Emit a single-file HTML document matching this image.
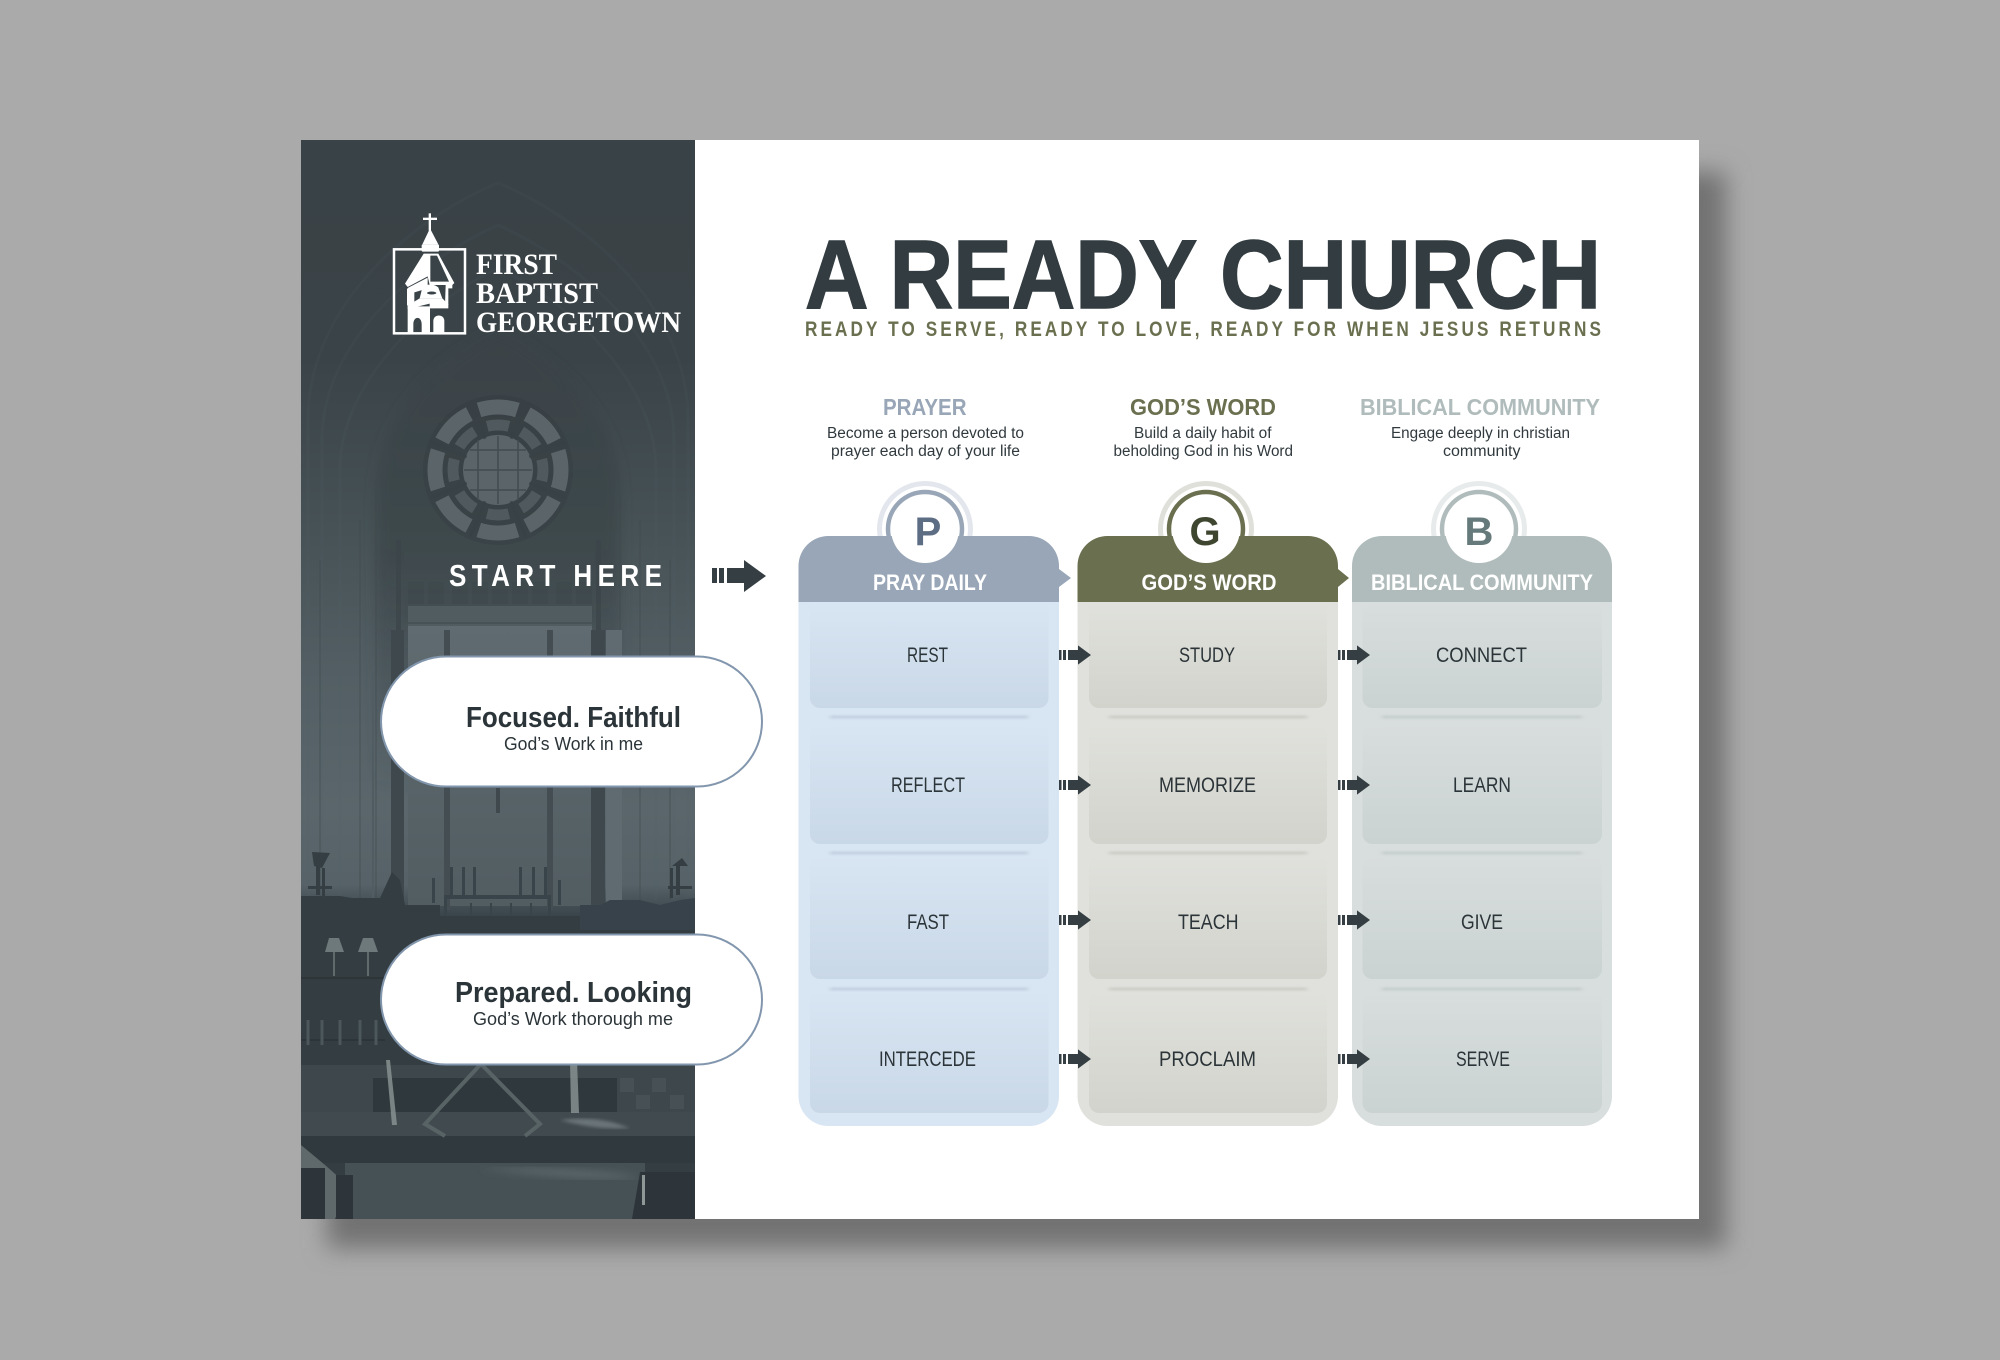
<!DOCTYPE html>
<html>
<head>
<meta charset="utf-8">
<title>A Ready Church</title>
<style>
html,body{margin:0;padding:0;width:2000px;height:1360px;overflow:hidden;background:#aaaaaa}
svg{display:block}
text{font-family:"Liberation Sans",sans-serif}
.t{font-weight:700}
.d{font-size:15.5px;fill:#30393d;text-anchor:start}
.i{font-size:21px;fill:#2b3438}
.h{font-size:22px;font-weight:700;fill:#fff}
.s{font-family:"Liberation Serif",serif;font-weight:700;font-size:30px;fill:#fff}
</style>
</head>
<body>
<svg width="2000" height="1360" viewBox="0 0 2000 1360" xmlns="http://www.w3.org/2000/svg">
<defs>
<filter id="sh" x="-10%" y="-10%" width="120%" height="120%"><feGaussianBlur stdDeviation="12"/></filter>
<filter id="b2"><feGaussianBlur stdDeviation="1.5"/></filter>
<filter id="b1" x="-5%" y="-600%" width="110%" height="1300%"><feGaussianBlur stdDeviation="2.4 1.4"/></filter>
<filter id="b3"><feGaussianBlur stdDeviation="4"/></filter>
<filter id="b6" x="-20%" y="-20%" width="140%" height="140%"><feGaussianBlur stdDeviation="6"/></filter>
<clipPath id="pc"><rect x="301" y="140" width="394" height="1079"/></clipPath>
<linearGradient id="pg" x1="0" y1="0" x2="0" y2="1">
<stop offset="0" stop-color="#394246"/><stop offset=".2" stop-color="#3a4347"/>
<stop offset=".33" stop-color="#444f53"/><stop offset=".5" stop-color="#535f64"/>
<stop offset=".62" stop-color="#5a666b"/><stop offset=".69" stop-color="#566267"/>
<stop offset=".72" stop-color="#39434a"/><stop offset=".8" stop-color="#343d41"/>
<stop offset="1" stop-color="#343d41"/>
</linearGradient>
<linearGradient id="ia" x1="0" y1="0" x2="0" y2="1">
<stop offset="0" stop-color="#3a4347" stop-opacity="1"/><stop offset=".5" stop-color="#3d474b" stop-opacity=".85"/>
<stop offset="1" stop-color="#47535a" stop-opacity="0"/>
</linearGradient>
<linearGradient id="wl" x1="0" y1="0" x2="0" y2="1">
<stop offset="0" stop-color="#5f6b70"/><stop offset="1" stop-color="#525d62"/>
</linearGradient>
<linearGradient id="c1" x1="0" y1="0" x2="0" y2="1"><stop offset="0" stop-color="#d8e5f3"/><stop offset="1" stop-color="#c9d8e7"/></linearGradient>
<linearGradient id="c2" x1="0" y1="0" x2="0" y2="1"><stop offset="0" stop-color="#e0e1dc"/><stop offset="1" stop-color="#d2d3cc"/></linearGradient>
<linearGradient id="c3" x1="0" y1="0" x2="0" y2="1"><stop offset="0" stop-color="#d8dddd"/><stop offset="1" stop-color="#cad3d2"/></linearGradient>
<g id="ar"><rect x="0" y="-5" width="2.5" height="10"/><rect x="4" y="-5" width="3" height="10"/><path d="M9 -5H19V-9.6L32 0L19 9.6V5H9Z"/></g>
</defs>

<rect width="2000" height="1360" fill="#aaaaaa"/>
<rect x="327" y="172" width="1399" height="1076" fill="#727272" filter="url(#sh)"/>
<rect x="301" y="140" width="1398" height="1079" fill="#ffffff"/>

<g clip-path="url(#pc)">
<rect x="301" y="140" width="394" height="1079" fill="url(#pg)"/>
<!-- arches -->
<g fill="none" stroke="#55616a" stroke-opacity=".12" stroke-width="3">
<path d="M308 900V420C308 300 420 215 498 183C576 215 688 300 688 420V900"/>
<path d="M322 900V440C322 340 420 260 498 225C576 260 674 340 674 440V900"/>
<path d="M340 900V470C340 380 430 300 498 268C566 300 656 380 656 470V900"/>
</g>
<path d="M376 790V500C376 420 430 365 498 330C566 365 620 420 620 500V790Z" fill="url(#ia)" filter="url(#b6)"/>
<g stroke="#3f494d" stroke-opacity=".3" stroke-width="2" fill="none">
<path d="M376 900V500C376 420 430 365 498 330C566 365 620 420 620 500V900"/>
<path d="M320 900V560M360 900V520M640 900V520M670 900V560"/>
</g>
<!-- rose window -->
<g>
<circle cx="498" cy="470" r="75" fill="#343d41" opacity=".4"/>
<circle cx="498" cy="470" r="63" fill="none" stroke="#5b6569" stroke-width="15" stroke-dasharray="39 10.5" stroke-dashoffset="19.5"/>
<circle cx="498" cy="470" r="45" fill="none" stroke="#50595d" stroke-width="11" stroke-dasharray="22 13.3" stroke-dashoffset="11"/>
<circle cx="498" cy="470" r="35" fill="#5b6569"/>
<g stroke="#434d50" stroke-width="1.5"><path d="M464 470H532M498 436V504M470 450H526M470 490H526M478 440V500M518 440V500"/></g>
<g transform="rotate(22.5 498 470)" stroke="#384145" stroke-width="3" opacity=".9"><path d="M498 398V436M498 504V542M426 470H464M532 470H570M447 419L474 446M549 419L522 446M447 521L474 494M549 521L522 494"/></g>
</g>
<!-- reredos -->
<rect x="396" y="540" width="5" height="110" fill="#3c464a" opacity=".8"/>
<rect x="596" y="540" width="5" height="110" fill="#3c464a" opacity=".8"/>
<rect x="404" y="552" width="190" height="70" fill="#424c50" opacity=".35"/>
<g fill="#3e484c" opacity=".55"><rect x="408" y="582" width="16" height="22"/><rect x="428" y="582" width="16" height="22"/><rect x="452" y="582" width="16" height="22"/><rect x="472" y="582" width="16" height="22"/><rect x="492" y="582" width="16" height="22"/><rect x="512" y="582" width="16" height="22"/><rect x="532" y="582" width="16" height="22"/><rect x="556" y="582" width="16" height="22"/><rect x="576" y="582" width="16" height="22"/></g>
<rect x="408" y="606" width="184" height="20" fill="#515c61"/>
<rect x="408" y="622" width="184" height="2" fill="#414b4f" opacity=".6"/>
<rect x="408" y="626" width="184" height="280" fill="url(#wl)"/>
<rect x="391" y="630" width="13" height="280" fill="#3f494d"/>
<rect x="591" y="630" width="14" height="280" fill="#3f494d"/>
<rect x="444" y="630" width="6" height="280" fill="#444e52"/>
<rect x="547" y="630" width="6" height="280" fill="#444e52"/>
<rect x="496" y="788" width="4" height="25" fill="#3f494d"/>
<path d="M373 660V900" stroke="#505c61" stroke-width="2"/>
<rect x="606" y="630" width="16" height="280" fill="#5f6b70"/>
<!-- altar -->
<g fill="#39434a">
<rect x="450" y="867" width="3" height="28"/><rect x="462" y="867" width="3" height="28"/><rect x="473" y="867" width="3" height="28"/>
<rect x="519" y="867" width="3" height="28"/><rect x="532" y="867" width="3" height="28"/><rect x="544" y="867" width="3" height="28"/>
<rect x="432" y="878" width="3" height="25"/><rect x="558" y="880" width="3" height="25"/>
<rect x="444" y="895" width="107" height="4"/><rect x="444" y="899" width="3" height="20"/><rect x="548" y="899" width="3" height="20"/>
<rect x="470" y="903" width="2" height="16"/><rect x="490" y="903" width="2" height="16"/><rect x="510" y="903" width="2" height="16"/><rect x="530" y="903" width="2" height="16"/>
</g>
<rect x="433" y="916" width="150" height="20" fill="#343d41"/>
<path d="M301 896H340L352 898H380L392 872L400 880L405 905H440V940H301Z" fill="#343d41"/>
<path d="M580 905H600L610 900H640L660 905L680 900L695 898V940H580Z" fill="#38424a"/>
<g fill="#353e42"><rect x="316" y="865" width="4" height="30"/><rect x="322" y="868" width="3" height="30"/><rect x="308" y="886" width="24" height="3"/><path d="M312 852L330 853L322 868L314 866Z"/>
<rect x="676" y="865" width="4" height="30"/><rect x="670" y="868" width="3" height="30"/><rect x="668" y="886" width="24" height="3"/><path d="M672 866L688 866L682 858Z"/></g>
<rect x="301" y="930" width="394" height="140" fill="#343d41"/>
<!-- lamps -->
<g fill="#6e797c"><path d="M329 938H339L344 952H325Z"/><path d="M363 938H373L378 952H358Z"/></g>
<g stroke="#6e797c" stroke-width="1.5"><path d="M334 952V976M368 952V976"/></g>
<g stroke="#2d3539" stroke-width="2"><path d="M301 978H385M301 1040H385"/></g>
<g stroke="#4c575b" stroke-width="3"><path d="M308 1020V1045M322 1020V1045M340 1020V1045M360 1020V1045M376 1020V1045"/></g>
<!-- floor -->
<rect x="301" y="1065" width="394" height="50" fill="#3e484c"/>
<rect x="373" y="1078" width="244" height="34" fill="#2f383c"/>
<g fill="#4b565a" opacity=".7"><rect x="620" y="1078" width="14" height="14"/><rect x="652" y="1078" width="14" height="14"/><rect x="636" y="1095" width="14" height="14"/><rect x="670" y="1095" width="14" height="14"/></g>
<rect x="301" y="1112" width="394" height="24" fill="#414b4f"/>
<rect x="301" y="1136" width="394" height="27" fill="#30393d"/>
<rect x="345" y="1163" width="300" height="56" fill="#465155"/>
<path d="M390 1060L397 1125H392L386 1060ZM570 1060H577L579 1113H571Z" fill="#87918f" opacity=".85"/>
<path d="M480 1065L425 1124L445 1136M482 1065L540 1124L525 1136" fill="none" stroke="#586366" stroke-width="4"/>
<path d="M301 1145L325 1165L342 1180L345 1195L335 1219H301Z" fill="#5f696c"/>
<path d="M301 1168H325V1219H301ZM336 1175H353V1219H336ZM640 1172H695V1219H632Z" fill="#2d353a"/>
<rect x="642" y="1175" width="3" height="30" fill="#8f9896"/>
<path d="M560 1120C600 1115 620 1125 630 1128C600 1130 580 1125 560 1120Z" fill="#6a7578" filter="url(#b2)"/>
<path d="M480 1168C560 1168 620 1172 640 1178C600 1180 540 1176 480 1168Z" fill="#5d696d" filter="url(#b3)"/>
</g>

<!-- logo -->
<g transform="translate(385 205) scale(.33333)" fill="#fff">
<rect x="27" y="133" width="213" height="252" fill="none" stroke="#fff" stroke-width="7.5"/>
<rect x="131" y="25" width="7" height="52"/><rect x="114" y="38" width="42" height="7"/>
<path d="M135 70L160 118H112Z"/>
<rect x="110" y="118" width="52" height="22" rx="4"/>
<path d="M56 240L116 142H160L214 240L200 250H74Z" fill="#3a4347"/>
<path d="M116 146H160L208 234L202 240H134L128 214L68 246L60 236Z"/>
<path d="M136 152H156L192 230L136 230Z" fill="#3a4347"/>
<path d="M70 248L128 218V250L88 262V296L66 302V252Z"/>
<path d="M182 240H202V250H190V300H180Z"/>
<path d="M112 248C120 236 150 236 160 248L172 280H104Z"/>
<ellipse cx="140" cy="264" rx="14" ry="4.5" fill="#3a4347"/>
<path d="M104 280H172L190 298V310H134V296L68 312V302Z"/>
<path d="M68 304H135V385H110V358C110 332 85 332 85 358V385H68Z"/>
<path d="M145 348C145 326 178 326 178 348V385H145Z"/>
</g>
<text class="s" x="476" y="274" textLength="81" lengthAdjust="spacingAndGlyphs">FIRST</text>
<text class="s" x="476" y="303" textLength="122" lengthAdjust="spacingAndGlyphs">BAPTIST</text>
<text class="s" x="476" y="332" textLength="205" lengthAdjust="spacingAndGlyphs">GEORGETOWN</text>

<text transform="translate(449 586) scale(.84 1)" x="0" y="0" font-size="31" font-weight="700" fill="#fff" textLength="253.5" lengthAdjust="spacing">START HERE</text>
<g fill="#353e42"><rect x="712" y="568" width="5" height="15"/><rect x="719" y="568" width="5" height="15"/><path d="M727 568H744V560L766 576L744 592V583H727Z"/></g>

<!-- pills -->
<rect x="381" y="656.5" width="381" height="130" rx="65" fill="#fff" stroke="#8296ad" stroke-width="2"/>
<rect x="381" y="934.5" width="381" height="130" rx="65" fill="#fff" stroke="#8296ad" stroke-width="2"/>
<text class="t" x="466" y="727" font-size="29" fill="#2b3438" textLength="215" lengthAdjust="spacingAndGlyphs">Focused. Faithful</text>
<text x="504" y="750" font-size="18" fill="#2b3438" textLength="139" lengthAdjust="spacingAndGlyphs">God’s Work in me</text>
<text class="t" x="455" y="1002" font-size="29" fill="#2b3438" textLength="237" lengthAdjust="spacingAndGlyphs">Prepared. Looking</text>
<text x="473" y="1025" font-size="18" fill="#2b3438" textLength="200" lengthAdjust="spacingAndGlyphs">God’s Work thorough me</text>

<!-- title -->
<text class="t" x="805" y="308" font-size="97" fill="#333c40" stroke="#333c40" stroke-width="1.5" textLength="796" lengthAdjust="spacingAndGlyphs">A READY CHURCH</text>
<text class="t" transform="translate(805 336) scale(.8 1)" x="0" y="0" font-size="21.5" fill="#6a704f" textLength="995" lengthAdjust="spacing">READY TO SERVE, READY TO LOVE, READY FOR WHEN JESUS RETURNS</text>

<text class="t" x="883" y="415" font-size="23" fill="#98a6b7" textLength="83.5" lengthAdjust="spacingAndGlyphs">PRAYER</text>
<text class="t" x="1130" y="415" font-size="23" fill="#6a704f" textLength="146" lengthAdjust="spacingAndGlyphs">GOD’S WORD</text>
<text class="t" x="1360" y="415" font-size="23" fill="#b0bcbb" textLength="240" lengthAdjust="spacingAndGlyphs">BIBLICAL COMMUNITY</text>

<text class="d" x="827" y="438" textLength="197" lengthAdjust="spacingAndGlyphs">Become a person devoted to</text>
<text class="d" x="831" y="456" textLength="189" lengthAdjust="spacingAndGlyphs">prayer each day of your life</text>
<text class="d" x="1134" y="438" textLength="137.5" lengthAdjust="spacingAndGlyphs">Build a daily habit of</text>
<text class="d" x="1113.5" y="456" textLength="179.5" lengthAdjust="spacingAndGlyphs">beholding God in his Word</text>
<text class="d" x="1391" y="438" textLength="179" lengthAdjust="spacingAndGlyphs">Engage deeply in christian</text>
<text class="d" x="1443" y="456" textLength="77.5" lengthAdjust="spacingAndGlyphs">community</text>

<!-- rings -->
<circle cx="925" cy="529" r="45.5" fill="#fff" stroke="#e3e7ed" stroke-width="5"/>
<circle cx="925" cy="529" r="37" fill="#fff" stroke="#98a6b7" stroke-width="4.5"/>
<circle cx="1206" cy="529" r="45.5" fill="#fff" stroke="#dfe0da" stroke-width="5"/>
<circle cx="1206" cy="529" r="37" fill="#fff" stroke="#6a704f" stroke-width="4.5"/>
<circle cx="1479" cy="529" r="45.5" fill="#fff" stroke="#e8ebeb" stroke-width="5"/>
<circle cx="1479" cy="529" r="37" fill="#fff" stroke="#b0bcbb" stroke-width="4.5"/>

<!-- column 1 -->
<path d="M798.5 602H1059V1096a30 30 0 0 1-30 30H828.5a30 30 0 0 1-30-30Z" fill="#d8e5f3"/>
<path d="M798.5 602V566a30 30 0 0 1 30-30H1029a30 30 0 0 1 30 30V569L1071 578L1059 587V602Z" fill="#98a6b7"/>
<path d="M810 603H1048.5V698a10 10 0 0 1-10 10H820a10 10 0 0 1-10-10Z" fill="url(#c1)"/>
<rect x="810" y="724" width="238.5" height="120" rx="10" fill="url(#c1)"/>
<rect x="810" y="855" width="238.5" height="124" rx="10" fill="url(#c1)"/>
<rect x="810" y="991" width="238.5" height="122" rx="10" fill="url(#c1)"/>
<g fill="#a9b8c8" filter="url(#b1)" opacity=".7"><rect x="830" y="716" width="198" height="2"/><rect x="830" y="852" width="198" height="2"/><rect x="830" y="988" width="198" height="2"/></g>

<!-- column 2 -->
<path d="M1077.5 602H1338V1096a30 30 0 0 1-30 30H1107.5a30 30 0 0 1-30-30Z" fill="#e0e1dc"/>
<path d="M1077.5 602V566a30 30 0 0 1 30-30H1308a30 30 0 0 1 30 30V569L1349 578L1338 587V602Z" fill="#6a704f"/>
<path d="M1089 603H1327V698a10 10 0 0 1-10 10H1099a10 10 0 0 1-10-10Z" fill="url(#c2)"/>
<rect x="1089" y="724" width="238" height="120" rx="10" fill="url(#c2)"/>
<rect x="1089" y="855" width="238" height="124" rx="10" fill="url(#c2)"/>
<rect x="1089" y="991" width="238" height="122" rx="10" fill="url(#c2)"/>
<g fill="#b4b5ad" filter="url(#b1)" opacity=".7"><rect x="1109" y="716" width="198" height="2"/><rect x="1109" y="852" width="198" height="2"/><rect x="1109" y="988" width="198" height="2"/></g>

<!-- column 3 -->
<path d="M1352 602H1612V1096a30 30 0 0 1-30 30H1382a30 30 0 0 1-30-30Z" fill="#d8dddd"/>
<path d="M1352 602V566a30 30 0 0 1 30-30H1582a30 30 0 0 1 30 30V602Z" fill="#b0bcbb"/>
<path d="M1362.5 603H1602V698a10 10 0 0 1-10 10H1372.5a10 10 0 0 1-10-10Z" fill="url(#c3)"/>
<rect x="1362.5" y="724" width="239.5" height="120" rx="10" fill="url(#c3)"/>
<rect x="1362.5" y="855" width="239.5" height="124" rx="10" fill="url(#c3)"/>
<rect x="1362.5" y="991" width="239.5" height="122" rx="10" fill="url(#c3)"/>
<g fill="#b1bbbb" filter="url(#b1)" opacity=".7"><rect x="1382" y="716" width="200" height="2"/><rect x="1382" y="852" width="200" height="2"/><rect x="1382" y="988" width="200" height="2"/></g>

<!-- circles -->
<circle cx="925" cy="529" r="34" fill="#fff"/>
<circle cx="1206" cy="529" r="34" fill="#fff"/>
<circle cx="1479" cy="529" r="34" fill="#fff"/>
<text class="t" x="928" y="545" font-size="40" fill="#5d6d83" text-anchor="middle">P</text>
<text class="t" x="1205" y="545" font-size="40" fill="#3f4630" text-anchor="middle">G</text>
<text class="t" x="1479" y="545" font-size="40" fill="#667a7c" text-anchor="middle">B</text>

<text class="h" x="873" y="590" textLength="114" lengthAdjust="spacingAndGlyphs">PRAY DAILY</text>
<text class="h" x="1141.5" y="590" textLength="135" lengthAdjust="spacingAndGlyphs">GOD’S WORD</text>
<text class="h" x="1371" y="590" textLength="222" lengthAdjust="spacingAndGlyphs">BIBLICAL COMMUNITY</text>

<!-- items -->
<text class="i" x="907" y="662" textLength="41" lengthAdjust="spacingAndGlyphs">REST</text>
<text class="i" x="891" y="792" textLength="74" lengthAdjust="spacingAndGlyphs">REFLECT</text>
<text class="i" x="907" y="929" textLength="42" lengthAdjust="spacingAndGlyphs">FAST</text>
<text class="i" x="879" y="1066" textLength="97" lengthAdjust="spacingAndGlyphs">INTERCEDE</text>
<text class="i" x="1179" y="662" textLength="56" lengthAdjust="spacingAndGlyphs">STUDY</text>
<text class="i" x="1159" y="792" textLength="97" lengthAdjust="spacingAndGlyphs">MEMORIZE</text>
<text class="i" x="1178" y="929" textLength="60.5" lengthAdjust="spacingAndGlyphs">TEACH</text>
<text class="i" x="1159" y="1066" textLength="97" lengthAdjust="spacingAndGlyphs">PROCLAIM</text>
<text class="i" x="1436" y="662" textLength="91" lengthAdjust="spacingAndGlyphs">CONNECT</text>
<text class="i" x="1453" y="792" textLength="58" lengthAdjust="spacingAndGlyphs">LEARN</text>
<text class="i" x="1461" y="929" textLength="42" lengthAdjust="spacingAndGlyphs">GIVE</text>
<text class="i" x="1456" y="1066" textLength="54" lengthAdjust="spacingAndGlyphs">SERVE</text>

<!-- arrows -->
<g fill="#353e42">
<use href="#ar" x="1059" y="655"/><use href="#ar" x="1059" y="785"/><use href="#ar" x="1059" y="920"/><use href="#ar" x="1059" y="1059"/>
<use href="#ar" x="1338" y="655"/><use href="#ar" x="1338" y="785"/><use href="#ar" x="1338" y="920"/><use href="#ar" x="1338" y="1059"/>
</g>
</svg>
</body>
</html>
